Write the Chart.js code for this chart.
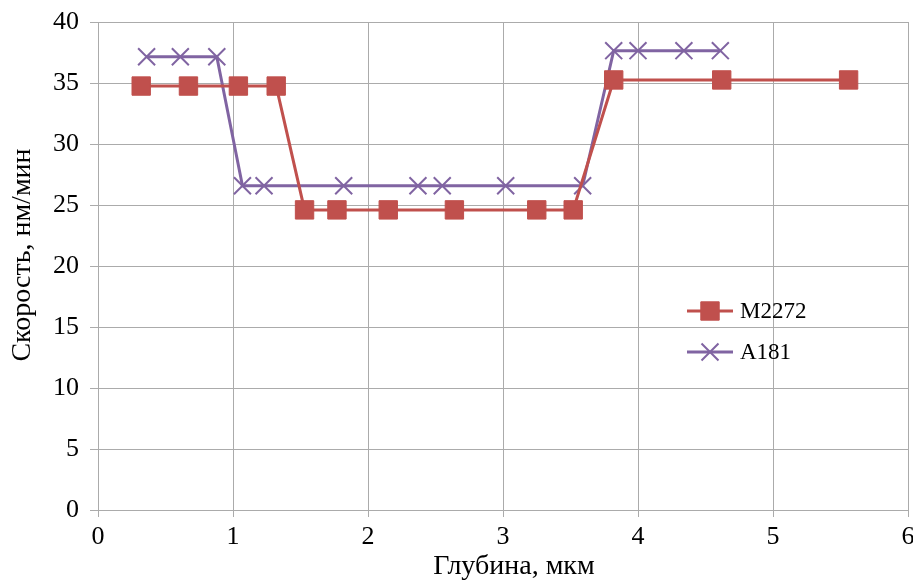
<!DOCTYPE html>
<html>
<head>
<meta charset="utf-8">
<script src="https://cdn.jsdelivr.net/npm/chart.js@4"></script>
<style>
  body { margin: 0; background: #fff; }
  #chart { display: block; }
</style>
</head>
<body>
<canvas id="chart" width="913" height="581"></canvas>
<script>
// data
const m2272X = [0.32, 0.67, 1.04, 1.32, 1.53, 1.77, 2.15, 2.64, 3.25, 3.52, 3.82, 4.62, 5.56];
const m2272Y = [34.75, 34.75, 34.75, 34.75, 24.6, 24.6, 24.6, 24.6, 24.6, 24.6, 35.25, 35.25, 35.25];
const a181X = [0.36, 0.61, 0.88, 1.07, 1.23, 1.82, 2.37, 2.55, 3.02, 3.59, 3.82, 4.0, 4.34, 4.61];
const a181Y = [37.15, 37.15, 37.15, 26.58, 26.58, 26.58, 26.58, 26.58, 26.58, 26.58, 37.65, 37.65, 37.65, 37.65];
const seriesNames = ["M2272", "A181"];
const xTitle = "Глубина, мкм";
const yTitle = "Скорость, нм/мин";

const RED = "#C0504D";
const PURPLE = "#8064A2";
const GRID = "#ABABAB";
const FONT = "'Liberation Serif', 'Times New Roman', serif";

const toPoints = (xs, ys) => xs.map((x, i) => ({ x: x, y: ys[i] }));

// big markers should not push the plot away from the right edge
Chart.LineController.prototype.getMaxOverflow = function () { return 0; };

// legend inside the plot and axis titles, placed like the original
const extras = {
  id: "extras",
  afterDraw(chart) {
    const ctx = chart.ctx;
    const rows = [[chart.data.datasets[0], 311], [chart.data.datasets[1], 352]];
    rows.forEach(([ds, y]) => {
      ctx.save();
      ctx.strokeStyle = ds.borderColor;
      ctx.lineWidth = 3;
      ctx.beginPath();
      ctx.moveTo(687, y);
      ctx.lineTo(733, y);
      ctx.stroke();
      ctx.fillStyle = ds.pointBackgroundColor;
      ctx.strokeStyle = ds.pointBorderColor;
      ctx.lineWidth = ds.pointBorderWidth;
      Chart.helpers.drawPoint(ctx, {
        pointStyle: ds.pointStyle,
        radius: ds.pointRadius,
        borderWidth: ds.pointBorderWidth,
      }, 710, y);
      ctx.fillStyle = "#000";
      ctx.font = "23px " + FONT;
      ctx.textBaseline = "middle";
      ctx.fillText(ds.label, 740, y + 1);
      ctx.restore();
    });

    ctx.save();
    ctx.fillStyle = "#000";
    ctx.font = "28px " + FONT;
    ctx.textAlign = "center";
    ctx.textBaseline = "middle";
    ctx.fillText(xTitle, 514, 567);
    ctx.translate(23, 255);
    ctx.rotate(-Math.PI / 2);
    ctx.fillText(yTitle, 0, 0);
    ctx.restore();
  },
};

const config = {
  type: "line",
  data: {
    datasets: [
      {
        label: seriesNames[0],
        data: toPoints(m2272X, m2272Y),
        borderColor: RED,
        borderWidth: 3,
        pointStyle: "rect",
        pointRadius: 13,
        pointBackgroundColor: RED,
        pointBorderColor: RED,
        pointBorderWidth: 1,
        tension: 0,
      },
      {
        label: seriesNames[1],
        data: toPoints(a181X, a181Y),
        borderColor: PURPLE,
        borderWidth: 3,
        pointStyle: "crossRot",
        pointRadius: 12,
        pointBackgroundColor: PURPLE,
        pointBorderColor: PURPLE,
        pointBorderWidth: 2,
        tension: 0,
      },
    ],
  },
  options: {
    responsive: false,
    animation: false,
    layout: { padding: { top: 22, right: 5, left: 0, bottom: 0 } },
    plugins: {
      legend: { display: false },
      tooltip: { enabled: false },
    },
    scales: {
      x: {
        type: "linear",
        min: 0,
        max: 6,
        ticks: {
          stepSize: 1,
          color: "#000",
          font: { family: FONT, size: 26 },
          padding: 5,
        },
        grid: { color: GRID, tickLength: 7, lineWidth: 1 },
        border: { color: GRID },
        afterFit(scale) {
          scale.height = 71;
          scale.paddingLeft = 0;
          scale.paddingRight = 0;
        },
      },
      y: {
        min: 0,
        max: 40,
        ticks: {
          stepSize: 5,
          color: "#000",
          font: { family: FONT, size: 26 },
          padding: 11,
        },
        grid: { color: GRID, tickLength: 8, lineWidth: 1 },
        border: { color: GRID },
        afterFit(scale) {
          scale.width = 98;
          scale.paddingTop = 0;
          scale.paddingBottom = 0;
        },
      },
    },
  },
  plugins: [extras],
};

const myChart = new Chart(document.getElementById("chart"), config);
</script>
</body>
</html>
